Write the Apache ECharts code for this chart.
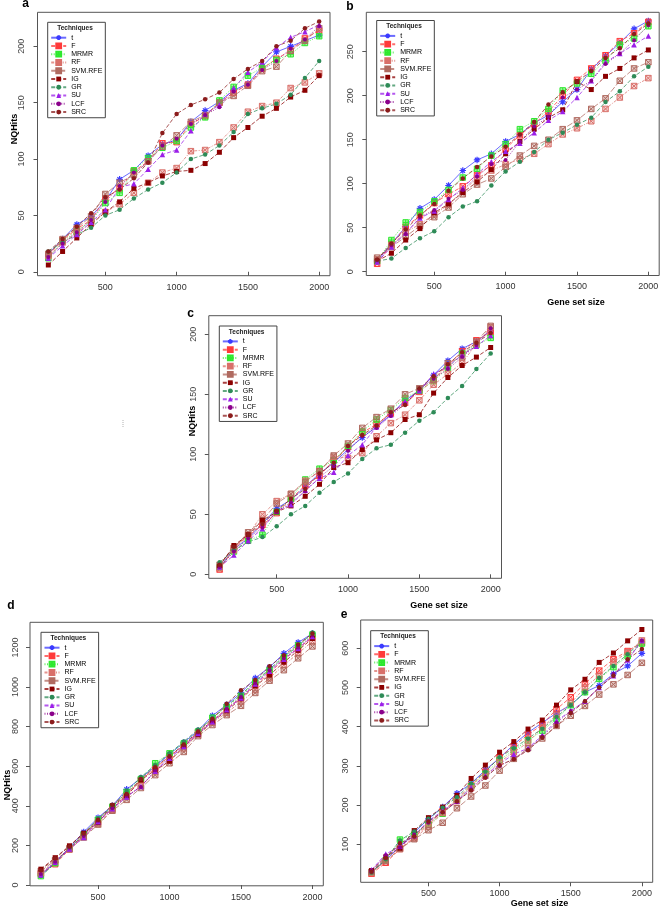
<!DOCTYPE html>
<html><head><meta charset="utf-8">
<script src="https://cdn.jsdelivr.net/npm/echarts@6/dist/echarts.min.js"></script>
<style>html,body{margin:0;padding:0;background:#fff}#c{width:660px;height:908px}</style>
</head><body><div id="c"></div>
<script>
const X = [100,200,300,400,500,600,700,800,900,1000,1100,1200,1300,1400,1500,1600,1700,1800,1900,2000];
const TECH = ['t','F','MRMR','RF','SVM.RFE','IG','GR','SU','LCF','SRC'];
const X_TICKS = [500,1000,1500,2000];

// Panel a
const A_t    = [16,29,42,49,63,82,90,103,113,117,133,143,151,161,167,182,195,200,205,210];
const A_F    = [15,28,38,46,65,74,89,98,114,115,131,138,150,159,166,180,189,196,207,214];
const A_MRMR = [12,27,36,45,61,70,90,101,110,116,128,137,152,164,174,181,188,193,203,209];
const A_RF   = [14,26,35,43,53,60,70,79,88,92,107,108,115,128,142,147,150,163,168,176];
const A_SVM  = [16,29,39,49,69,79,86,98,111,121,133,139,150,156,165,178,182,196,205,216];
const A_IG   = [6,18,30,42,53,62,74,79,85,89,90,96,106,119,128,138,145,155,161,174];
const A_GR   = [18,26,33,39,50,55,65,73,79,88,100,104,112,124,140,145,149,157,172,187];
const A_SU   = [12,23,33,44,55,75,78,91,104,108,125,140,148,163,177,186,199,208,213,219];
const A_LCF  = [13,25,35,46,62,76,88,97,112,118,131,139,146,160,166,179,187,198,206,218];
const A_SRC  = [18,29,40,52,66,73,83,97,123,140,148,153,159,171,180,187,200,205,216,222];
// Panel b
const B_t    = [12,32,51,72,82,98,115,127,134,148,156,169,178,193,207,230,245,260,276,285];
const B_F    = [9,31,51,64,78,88,97,110,121,140,155,168,182,200,218,231,246,262,271,284];
const B_MRMR = [12,36,56,68,80,93,107,117,132,145,162,171,185,206,214,225,240,258,265,279];
const B_RF   = [14,30,45,54,65,76,92,106,115,122,128,134,145,156,163,171,185,198,211,220];
const B_SVM  = [16,28,40,52,62,73,88,99,106,119,132,143,150,162,172,185,197,217,231,238];
const B_IG   = [12,21,36,49,67,77,90,102,116,134,148,162,175,184,216,207,222,231,243,252];
const B_GR   = [12,15,27,38,46,62,74,80,98,114,125,136,150,158,167,175,193,205,222,233];
const B_SU   = [11,28,44,61,69,82,95,111,125,137,146,158,172,182,198,217,238,248,258,268];
const B_LCF  = [13,30,43,62,70,83,93,108,122,127,148,165,176,198,207,217,236,248,263,280];
const B_SRC  = [14,32,48,64,77,92,106,119,131,142,156,170,190,204,216,228,243,254,270,282];
// Panel c
const C_t    = [6,21,30,42,55,62,73,84,93,104,114,123,133,145,153,166,178,188,194,203];
const C_F    = [4,22,32,41,51,63,74,82,95,106,118,125,134,143,152,162,174,186,195,202];
const C_MRMR = [6,19,28,33,52,63,79,88,95,107,119,129,137,147,153,161,172,184,191,197];
const C_RF   = [5,20,33,50,61,67,78,86,98,97,101,115,126,133,145,158,167,176,192,206];
const C_SVM  = [8,22,35,45,59,67,77,86,99,109,122,131,138,150,155,162,176,181,194,207];
const C_IG   = [7,24,33,45,52,57,65,75,89,93,104,112,118,129,133,151,164,174,181,189];
const C_GR   = [10,20,27,31,40,50,57,68,77,84,96,105,108,118,128,135,147,157,171,184];
const C_SU   = [6,16,28,38,53,58,70,80,85,99,108,123,133,144,153,167,173,183,190,199];
const C_LCF  = [6,19,30,39,52,60,69,81,90,103,115,122,132,142,154,163,171,181,191,205];
const C_SRC  = [8,23,33,42,53,63,71,84,93,107,116,124,135,141,155,165,175,185,193,201];
// Panel d
const D_t    = [50,115,190,268,340,400,483,540,600,660,720,780,855,910,970,1045,1100,1170,1225,1270];
const D_F    = [55,105,180,250,320,385,455,530,590,650,705,770,830,890,945,1010,1070,1140,1195,1250];
const D_MRMR = [45,110,185,255,330,395,470,535,615,665,715,775,845,900,955,1025,1085,1150,1210,1265];
const D_RF   = [60,120,185,245,310,380,445,500,570,630,690,760,820,870,925,985,1045,1110,1170,1230];
const D_SVM  = [70,125,180,240,305,375,430,490,555,615,672,752,808,858,905,970,1032,1085,1145,1205];
const D_IG   = [80,138,198,262,315,400,450,530,580,625,700,760,825,880,940,1005,1060,1125,1185,1245];
const D_GR   = [45,110,185,255,335,395,475,545,605,665,725,785,840,905,960,1030,1090,1155,1205,1275];
const D_SU   = [50,115,182,240,320,385,445,498,575,640,700,765,825,885,945,1015,1080,1140,1195,1255];
const D_LCF  = [55,118,188,248,325,388,450,495,580,645,705,770,830,890,950,1020,1085,1145,1200,1260];
const D_SRC  = [75,135,195,260,330,405,460,535,595,650,710,775,840,915,983,1035,1105,1160,1215,1270];
// Panel e
const E_t    = [30,60,95,130,165,195,230,255,290,320,355,385,410,435,455,488,505,535,555,587];
const E_F    = [25,53,88,118,150,185,215,250,285,322,350,380,405,445,475,510,543,572,593,615];
const E_MRMR = [28,60,112,125,150,178,212,248,280,315,340,365,390,420,455,488,522,552,580,612];
const E_RF   = [27,58,90,115,145,180,210,243,275,310,335,360,398,430,460,500,530,565,590,620];
const E_SVM  = [30,57,88,113,136,155,192,222,250,288,318,345,370,402,428,453,482,508,532,563];
const E_IG   = [33,68,90,135,168,195,225,268,302,335,362,394,417,455,494,521,564,588,619,648];
const E_GR   = [28,62,110,133,165,193,220,255,285,322,345,370,395,425,455,488,524,555,585,618];
const E_SU   = [35,75,95,122,160,185,210,245,275,305,330,345,378,415,440,465,500,530,570,620];
const E_LCF  = [33,72,92,125,155,182,208,240,272,300,318,342,375,410,440,465,500,535,570,620];
const E_SRC  = [30,65,103,120,158,182,210,237,270,302,317,340,372,402,435,465,500,530,572,598];

const A_YTICKS = [0,50,100,150,200];
const B_YTICKS = [0,50,100,150,200,250];
const C_YTICKS = [0,50,100,150,200];
const D_YTICKS = [0,200,400,600,800,1000,1200];
const E_YTICKS = [100,200,300,400,500,600];

const PANELS = [
  [A_t,A_F,A_MRMR,A_RF,A_SVM,A_IG,A_GR,A_SU,A_LCF,A_SRC],
  [B_t,B_F,B_MRMR,B_RF,B_SVM,B_IG,B_GR,B_SU,B_LCF,B_SRC],
  [C_t,C_F,C_MRMR,C_RF,C_SVM,C_IG,C_GR,C_SU,C_LCF,C_SRC],
  [D_t,D_F,D_MRMR,D_RF,D_SVM,D_IG,D_GR,D_SU,D_LCF,D_SRC],
  [E_t,E_F,E_MRMR,E_RF,E_SVM,E_IG,E_GR,E_SU,E_LCF,E_SRC]
];

const LAYOUT = [
  {grid:{left:37.5, top:12.3, width:292.5, height:263.4}, ymin:-3.5, ymax:230.2, yticks:A_YTICKS, lg:[47.7,22.3], ym:11},
  {grid:{left:366.3, top:12.3, width:292.9, height:263.2}, ymin:-4.3, ymax:294.8, yticks:B_YTICKS, lg:[376.7,20.5], ym:11},
  {grid:{left:208.8, top:315.7, width:292.7, height:262.6}, ymin:-3.33, ymax:215.5, yticks:C_YTICKS, lg:[219.3,326], ym:11},
  {grid:{left:30, top:622.3, width:293.3, height:263.5}, ymin:-4, ymax:1326.8, yticks:D_YTICKS, lg:[41,632.3], ym:9.5},
  {grid:{left:360.7, top:620, width:292, height:262.3}, ymin:3.1, ymax:672.2, yticks:E_YTICKS, lg:[370.7,630.7], ym:11}
];

const FF = '"Liberation Sans", Arial, sans-serif';
const AST = 'path://M5,0L5,10M0,5L10,5M1.6,1.6L8.4,8.4M8.4,1.6L1.6,8.4';
const SQX = 'path://M0,0L10,0L10,10L0,10ZM0,0L10,10M10,0L0,10';
const SQP = 'path://M0,0L10,0L10,10L0,10ZM5,0L5,10M0,5L10,5';
const STY = {
  't':       {c:'#3a3aff', sym:AST, fill:'rgba(0,0,0,0)', size:6.5, bw:1.2, dash:'solid'},
  'F':       {c:'#ff3a3a', sym:SQX, fill:'rgba(255,58,58,0.25)', size:5.5, bw:1, dash:[4,2]},
  'MRMR':    {c:'#2ee82e', sym:SQP, fill:'rgba(46,232,46,0.45)', size:5.5, bw:1, dash:[1,1.5]},
  'RF':      {c:'#d9706a', sym:SQX, fill:'rgba(217,112,106,0.3)', size:5.5, bw:1, dash:[3,1.5,1,1.5]},
  'SVM.RFE': {c:'#b06a60', sym:SQX, fill:'rgba(176,106,96,0.3)', size:5.5, bw:1, dash:[6,2]},
  'IG':      {c:'#8b0000', sym:'rect', fill:'#8b0000', size:5, bw:0, dash:[4,2]},
  'GR':      {c:'#2e8b57', sym:'circle', fill:'#2e8b57', size:4.5, bw:0, dash:[4,2]},
  'SU':      {c:'#9b1fe8', sym:'triangle', fill:'#9b1fe8', size:5.5, bw:0, dash:[4,2]},
  'LCF':     {c:'#8b008b', sym:'circle', fill:'#8b008b', size:4, bw:0, dash:[1,1.5]},
  'SRC':     {c:'#8b1c1c', sym:'circle', fill:'#8b1c1c', size:4.5, bw:0, dash:[4,2]}
};

const plain = v => String(v);
const grids = [], xAxes = [], yAxes = [], legends = [], series = [];
LAYOUT.forEach((L, p) => {
  grids.push(Object.assign({show:true, borderColor:'#555', borderWidth:1, backgroundColor:'transparent', containLabel:false, outerBoundsMode:'none'}, L.grid));
  xAxes.push({type:'value', gridIndex:p, min:24, max:2076,
    axisLine:{show:false}, splitLine:{show:false},
    axisTick:{show:true, inside:false, length:4, lineStyle:{color:'#555'}, customValues:X_TICKS},
    axisLabel:{customValues:X_TICKS, formatter:plain, fontSize:9, color:'#333', fontFamily:FF, margin:7}});
  yAxes.push({type:'value', gridIndex:p, min:L.ymin, max:L.ymax,
    axisLine:{show:false}, splitLine:{show:false},
    axisTick:{show:true, inside:false, length:4, lineStyle:{color:'#555'}, customValues:L.yticks},
    axisLabel:{customValues:L.yticks, formatter:plain, fontSize:9, color:'#444', fontFamily:FF, rotate:90, margin:L.ym}});
  legends.push({left:L.lg[0], top:L.lg[1], orient:'vertical', data:TECH,
    itemWidth:15, itemHeight:6, itemGap:1.26, padding:[11.9,3,2.2,2.5],
    borderColor:'#444', borderWidth:1, selectedMode:false, backgroundColor:'#fff',
    textStyle:{fontSize:7, color:'#000', fontFamily:FF, lineHeight:7}});
  PANELS[p].forEach((arr, i) => {
    const s = STY[TECH[i]];
    series.push({type:'line', name:TECH[i], xAxisIndex:p, yAxisIndex:p,
      data:X.map((x, j) => [x, arr[j]]), symbol:s.sym, symbolSize:s.size, showAllSymbol:true,
      lineStyle:{color:s.c, width:1, type:s.dash, opacity:0.75},
      itemStyle:{color:s.fill, borderColor:s.c, borderWidth:s.bw},
      emphasis:{disabled:true}, animation:false});
  });
});

function txt(x, y, s, size, bold, rot, color) {
  return {type:'text', x:x, y:y, rotation:rot || 0, z:100,
    style:{text:s, fontSize:size, fontWeight:bold ? 'bold' : 'normal', fontFamily:FF,
      fill:color || '#000', align:'center', verticalAlign:'middle'}};
}
const graphics = [
  txt(25.5, 4, 'a', 12, true), txt(350, 7, 'b', 12, true), txt(190.7, 314, 'c', 12, true),
  txt(11, 606, 'd', 12, true), txt(344, 615, 'e', 12, true),
  txt(15, 129, 'NQHits', 9, true, Math.PI/2), txt(193, 421, 'NQHits', 9, true, Math.PI/2),
  txt(8, 785, 'NQHits', 9, true, Math.PI/2),
  txt(576, 303, 'Gene set size', 9, true), txt(439, 606, 'Gene set size', 9, true),
  txt(539.5, 904, 'Gene set size', 9, true),
  txt(123, 425, '\u205E', 9, false, 0, '#aaa')
];
LAYOUT.forEach(L => graphics.push(txt(L.lg[0] + 27.3, L.lg[1] + 6, 'Techniques', 6.5, true, 0, '#222')));

const chart = echarts.init(document.getElementById('c'), null, {renderer:'canvas'});
chart.setOption({animation:false, grid:grids, xAxis:xAxes, yAxis:yAxes, legend:legends, series:series, graphic:graphics});
</script></body></html>
